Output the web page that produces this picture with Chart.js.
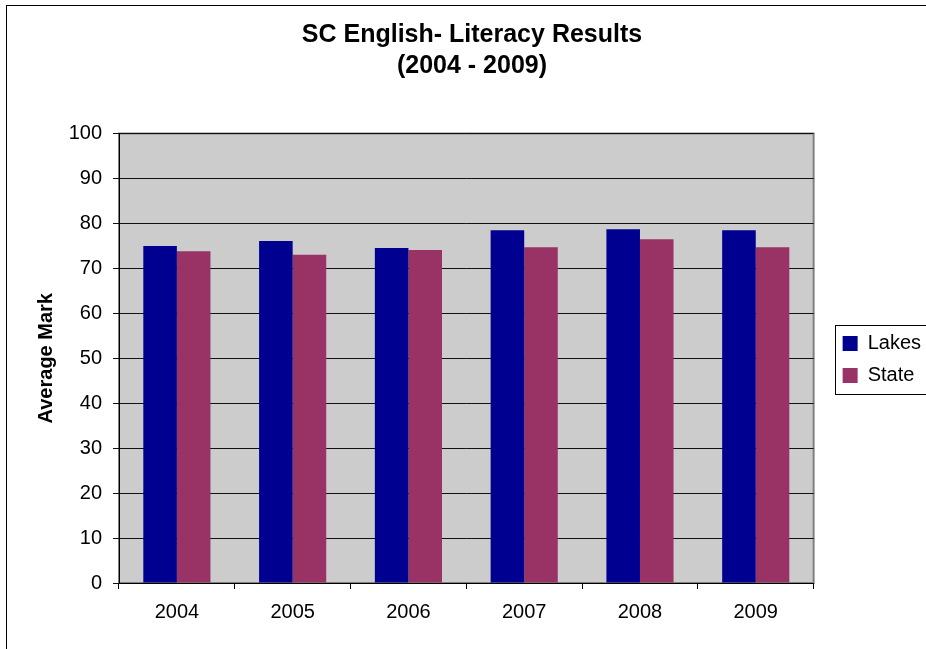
<!DOCTYPE html>
<html lang="en">
<head>
    <meta charset="UTF-8">
    <title>SC English- Literacy Results (2004 - 2009)</title>
    <script src="https://cdn.jsdelivr.net/npm/chart.js"></script>
    <style>
        html, body { margin: 0; padding: 0; background: #fff; }
        .wrap { width: 926px; height: 649px; }
    </style>
</head>
<body>
    <div class="wrap">
        <canvas id="resultsChart" width="926" height="649"></canvas>
    </div>

    <script>
        // results per year
        const years = ['2004', '2005', '2006', '2007', '2008', '2009'];
        const lakes = [75.0, 76.1, 74.5, 78.5, 78.7, 78.5];
        const state = [73.8, 73.0, 74.1, 74.7, 76.5, 74.7];

        // grey plot background, frame around the whole chart, box around the legend
        const chartFrame = {
            id: 'chartFrame',
            afterLayout(chart) {
                // move the legend away from the plot and down to the middle
                const l = chart.legend;
                l.left += 17;
                l.right += 17;
                l.top += 35;
                l.bottom += 35;
            },
            beforeDraw(chart) {
                const {ctx, chartArea: a} = chart;
                ctx.save();
                ctx.fillStyle = '#cccccc';
                ctx.fillRect(a.left, a.top, a.right - a.left, a.bottom - a.top);
                ctx.strokeStyle = '#808080';
                ctx.lineWidth = 2;
                ctx.strokeRect(a.left, a.top, a.right - a.left, a.bottom - a.top);
                ctx.restore();
            },
            afterDraw(chart) {
                const ctx = chart.ctx;
                ctx.save();
                ctx.strokeStyle = '#000';
                ctx.lineWidth = 1;
                ctx.strokeRect(6.5, 5.5, 960, 700);

                const hb = chart.legend.legendHitBoxes;
                if (hb && hb.length) {
                    const x0 = Math.round(hb[0].left) - 7.5;
                    const y0 = Math.round(hb[0].top) - 8.5;
                    const last = hb[hb.length - 1];
                    const y1 = Math.round(last.top + last.height) + 8.5;
                    ctx.strokeRect(x0, y0, 120, y1 - y0);
                }
                ctx.restore();
            }
        };

        Chart.defaults.font.family = "Arial, 'Liberation Sans', sans-serif";
        Chart.defaults.color = '#000';

        new Chart(document.getElementById('resultsChart'), {
            type: 'bar',
            data: {
                labels: years,
                datasets: [{
                    label: 'Lakes',
                    data: lakes,
                    backgroundColor: '#000090'
                }, {
                    label: 'State',
                    data: state,
                    backgroundColor: '#993366'
                }]
            },
            options: {
                responsive: false,
                animation: false,
                layout: {
                    padding: { left: 30, right: 12, top: 0, bottom: 0 }
                },
                datasets: {
                    bar: { categoryPercentage: 0.58, barPercentage: 1.0 }
                },
                scales: {
                    x: {
                        offset: true,
                        grid: {
                            offset: true,
                            drawOnChartArea: false,
                            tickLength: 6,
                            color: '#000'
                        },
                        border: { color: '#000', width: 1 },
                        ticks: { padding: 11, font: { size: 20 } },
                        afterFit(scale) { scale.height = 66; }
                    },
                    y: {
                        min: 0,
                        max: 100,
                        grid: {
                            tickLength: 6,
                            color: '#111',
                            lineWidth: 1
                        },
                        border: { color: '#000', width: 1 },
                        ticks: { stepSize: 10, padding: 11, font: { size: 20 } },
                        title: {
                            display: true,
                            text: 'Average Mark',
                            font: { size: 20, weight: 'bold' },
                            padding: { top: 4, bottom: 4 }
                        },
                        afterFit(scale) { scale.width = 89; }
                    }
                },
                plugins: {
                    title: {
                        display: true,
                        text: ['SC English- Literacy Results', '(2004 - 2009)'],
                        color: '#000',
                        font: { size: 25, weight: 'bold', lineHeight: 1.25 },
                        padding: { top: 19, bottom: 52 }
                    },
                    legend: {
                        position: 'right',
                        labels: {
                            boxWidth: 15,
                            boxHeight: 15,
                            padding: 12,
                            font: { size: 20 }
                        }
                    },
                    tooltip: { enabled: false }
                }
            },
            plugins: [chartFrame]
        });
    </script>
</body>
</html>
